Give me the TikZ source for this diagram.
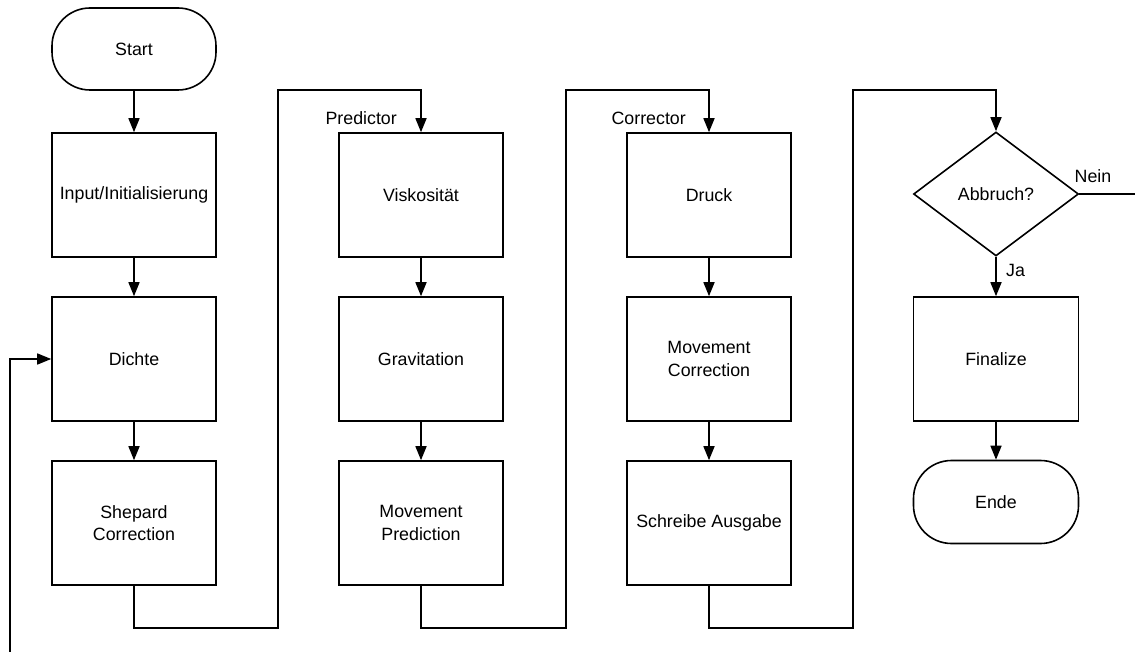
\documentclass[tikz,border=0pt]{standalone}
\usepackage{fontspec}
\setmainfont{Liberation Sans}
\usetikzlibrary{arrows.meta,shapes.geometric}
\begin{document}
\begin{tikzpicture}[x=1pt,y=-1pt,
  font=\fontsize{17.8}{22.5}\selectfont,
  stepbox/.style={draw,line width=1.6pt,minimum width=164pt,minimum height=124pt,
    inner sep=2pt,align=center},
  termbox/.style={draw,line width=1.6pt,minimum width=164pt,minimum height=82pt,
    rounded corners=38pt,align=center},
  decide/.style={draw,line width=1.6pt,diamond,minimum width=165pt,minimum height=124pt,
    inner sep=0pt,aspect=1.33},
  flow/.style={line width=1.6pt,-{Triangle[length=14pt,width=11pt]}},
  plain/.style={line width=1.6pt},
  lbl/.style={inner sep=0pt}]
\useasboundingbox (0,0) rectangle (1135,652);

% column 1
\node[termbox] (start) at (134,49) {Start};
\node[stepbox] (input) at (134,195) {Input/Initialisierung};
\node[stepbox] (dichte) at (134,359) {Dichte};
\node[stepbox] (shepard) at (134,523) {Shepard\\Correction};

% column 2: predictor
\node[stepbox] (visk) at (421,195) {Viskosität};
\node[stepbox] (grav) at (421,359) {Gravitation};
\node[stepbox] (mpred) at (421,523) {Movement\\Prediction};

% column 3: corrector
\node[stepbox] (druck) at (709,195) {Druck};
\node[stepbox] (mcorr) at (709,359) {Movement\\Correction};
\node[stepbox] (ausgabe) at (709,523) {Schreibe Ausgabe};

% column 4
\node[decide] (abbruch) at (996,194) {Abbruch?};
\node[stepbox,minimum width=165pt] (final) at (996,359) {Finalize};
\node[termbox,minimum width=165pt,minimum height=83pt] (ende) at (996,502) {Ende};

% free ends of the loop
\coordinate (loopin) at (10,652);
\coordinate (loopout) at (1135,194);

% straight arrows
\draw[flow] (start) -- (input);
\draw[flow] (input) -- (dichte);
\draw[flow] (dichte) -- (shepard);
\draw[flow] (visk) -- (grav);
\draw[flow] (grav) -- (mpred);
\draw[flow] (druck) -- (mcorr);
\draw[flow] (mcorr) -- (ausgabe);
\draw[flow] (abbruch) -- (final);
\draw[flow] (final) -- (ende);

% column transitions
\draw[flow] (shepard.south) -- ++(0,42) -| (278,90) -| (visk.north);
\draw[flow] (mpred.south) -- ++(0,42) -| (566,90) -| (druck.north);
\draw[flow] (ausgabe.south) -- ++(0,42) -| (853,90) -| (abbruch.north);

% loop back
\draw[plain] (abbruch.east) -- (loopout);
\draw[flow] (loopin) |- (dichte.west);

% labels
\node[lbl,anchor=east] (lpred) at (397,118) {Predictor};
\node[lbl,anchor=east] (lcorr) at (686,118) {Corrector};
\node[lbl] (lnein) at (1093,176) {Nein};
\node[lbl,anchor=west] (lja) at (1006,270) {Ja};
\end{tikzpicture}
\end{document}
